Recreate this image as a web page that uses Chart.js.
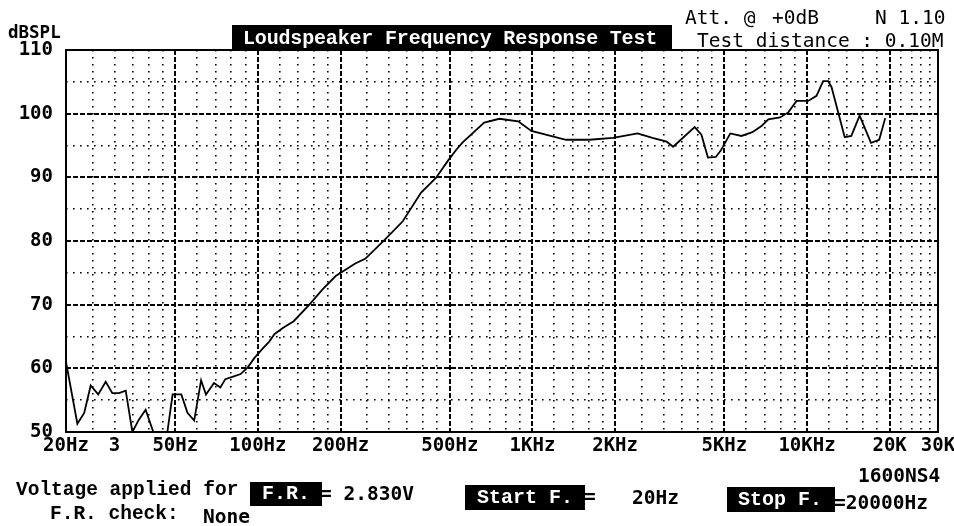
<!DOCTYPE html>
<html><head><meta charset="utf-8">
<script src="https://cdn.jsdelivr.net/npm/chart.js@4"></script>
<style>
html,body{margin:0;padding:0;background:#fff;}
#wrap{position:relative;width:954px;height:526px;overflow:hidden;background:#fff;}
#wrap canvas{position:absolute;left:0;top:0;}
.t{position:absolute;white-space:pre;line-height:1;color:#000;}
.mono{font-family:"DejaVu Sans Mono",monospace;font-size:19.5px;}
.b{font-weight:bold;}
.cour{font-family:"Liberation Mono",monospace;font-weight:bold;font-size:19.5px;}
.box{position:absolute;background:#000;color:#fff;font-family:"Liberation Mono",monospace;font-weight:bold;font-size:20px;white-space:pre;box-sizing:border-box;}
.box span{position:relative;}
</style></head>
<body>
<div id="wrap">
<canvas id="c" width="954" height="526"></canvas>
<div class="t mono b" style="left:8px;top:24px;font-size:17.5px;">dBSPL</div>
<div class="box" style="left:232px;top:25px;width:440px;height:25px;line-height:25px;padding-left:11px;letter-spacing:-0.17px;"><span style="top:1px;">Loudspeaker Frequency Response Test</span></div>
<div class="t mono" style="left:685px;top:8px;">Att. @</div>
<div class="t mono" style="left:772px;top:8px;">+0dB</div>
<div class="t mono" style="left:875px;top:8px;">N 1.10</div>
<div class="t mono" style="left:697px;top:31px;">Test distance : 0.10M</div>

<div class="t cour" style="left:16px;top:481px;">Voltage applied for</div>
<div class="box" style="left:250px;top:482px;width:72px;height:24px;line-height:24px;text-align:center;"><span>F.R.</span></div>
<div class="t mono b" style="left:320px;top:484px;">= 2.830V</div>
<div class="t cour" style="left:50px;top:505px;">F.R. check:</div>
<div class="t mono b" style="left:203px;top:507px;">None</div>
<div class="box" style="left:465px;top:485px;width:120px;height:25px;line-height:25px;padding-left:12px;"><span>Start F.</span></div>
<div class="t mono b" style="left:584px;top:487px;">=</div>
<div class="t mono b" style="left:632px;top:488px;">20Hz</div>
<div class="box" style="left:727px;top:487px;width:108px;height:25px;line-height:25px;padding-left:11px;"><span>Stop F.</span></div>
<div class="t mono b" style="left:834px;top:493px;">=20000Hz</div>
<div class="t mono b" style="left:858px;top:466px;">1600NS4</div>
</div>
<script>
// Measured response (frequency in Hz, level in dB SPL)
const freqHz = [20,22,23.3,24.6,26.2,27.9,29.5,31.2,33,34.9,36.8,39,41.6,44,46.8,48.9,52.6,55.4,58.6,62.1,64.7,69.2,73,76.1,81.2,86.5,92,97,104.6,110,115,124,135,154,172,192,227,246,290,337,393,445,494,527,557,667,758,887,991,1325,1612,1965,2416,2735,3083,3255,3898,4125,4357,4655,4850,5255,5770,6321,6847,7232,7976,8548,9160,10100,10830,11450,11940,12280,13720,14500,15550,17100,18320,19270];
const splDb = [61.0,51.3,53.0,57.3,55.9,57.9,56.1,56.1,56.5,50.0,51.9,53.5,50.0,49.0,50.0,55.9,55.9,53.0,51.8,58.1,55.9,57.7,57.0,58.3,58.7,59.1,60.2,61.6,63.2,64.2,65.4,66.4,67.4,70.0,72.4,74.5,76.5,77.2,80.2,83.1,87.6,89.9,92.7,94.3,95.5,98.6,99.2,98.8,97.3,95.9,95.9,96.2,96.9,96.2,95.6,94.8,97.9,96.7,93.1,93.2,94.2,96.9,96.5,97.1,98.1,99.1,99.4,100.2,102.0,102.0,102.8,105.1,105.1,104.2,96.3,96.5,99.7,95.4,95.9,99.3];

// Axis grid and labels
const xGridHz = [20,25,30,35,40,45,50,60,70,80,90,100,120,140,160,180,200,250,300,350,400,450,500,600,700,800,900,1000,1200,1400,1600,1800,2000,2500,3000,3500,4000,4500,5000,6000,7000,8000,9000,10000,12000,14000,16000,18000,20000,22000,24000,26000,28000,30000];
const xMajorHz = [50,100,200,500,1000,2000,5000,10000,20000];
const xLabelHz = [20,30,50,100,200,500,1000,2000,5000,10000,20000,30000];
const xLabelText = ["20Hz","3","50Hz","100Hz","200Hz","500Hz","1KHz","2KHz","5KHz","10KHz","20K","30K"];
const yMin = 50, yMax = 110, yGridStep = 5, yLabelStep = 10;

const points = freqHz.map((f, i) => ({x: f, y: splDb[i]}));

const frame = {
  id: 'frame',
  afterDatasetsDraw(chart) {
    const {ctx, chartArea: a} = chart;
    ctx.save();
    ctx.strokeStyle = '#000';
    ctx.lineWidth = 2;
    ctx.setLineDash([]);
    ctx.strokeRect(a.left, a.top, a.right - a.left, a.bottom - a.top);
    ctx.restore();
  }
};

const tickFont = {family: 'DejaVu Sans Mono', size: 19, weight: 'bold'};
const isXMajor = c => c.tick && xMajorHz.includes(c.tick.value);
const isYMajor = c => c.tick && c.tick.value % yLabelStep === 0;

new Chart(document.getElementById('c'), {
  type: 'line',
  data: {datasets: [{data: points, borderColor: '#000', borderWidth: 1.8, pointRadius: 0, tension: 0, fill: false}]},
  options: {
    responsive: false,
    animation: false,
    layout: {padding: {left: 0, top: 50, right: 16, bottom: 54}},
    plugins: {legend: {display: false}, tooltip: {enabled: false}, title: {display: false}},
    scales: {
      x: {
        type: 'logarithmic', min: 20, max: 30000,
        afterBuildTicks: s => { s.ticks = xGridHz.map(v => ({value: v})); },
        afterFit: s => { s.height = 40; s.paddingLeft = 0; s.paddingRight = 0; },
        ticks: {
          autoSkip: false, maxRotation: 0, minRotation: 0, padding: 3, color: '#000', font: tickFont,
          callback: v => { const i = xLabelHz.indexOf(v); return i >= 0 ? xLabelText[i] : ''; }
        },
        grid: {drawTicks: false, color: '#000', lineWidth: c => isXMajor(c) ? 2 : 1.6},
        border: {display: false, dash: c => isXMajor(c) ? [5, 2] : [1.6, 5.4]}
      },
      y: {
        type: 'linear', min: yMin, max: yMax,
        afterFit: s => { s.width = 66; s.paddingTop = 0; s.paddingBottom = 0; },
        ticks: {
          stepSize: yGridStep, padding: 13, labelOffset: 0, color: '#000', font: tickFont,
          callback: v => (v % yLabelStep === 0 ? String(v) : '')
        },
        grid: {drawTicks: false, color: '#000', lineWidth: c => isYMajor(c) ? 2 : 1.6},
        border: {display: false, dash: c => isYMajor(c) ? [5, 2] : [1.6, 5.4]}
      }
    }
  },
  plugins: [frame]
});
</script>
</body></html>
